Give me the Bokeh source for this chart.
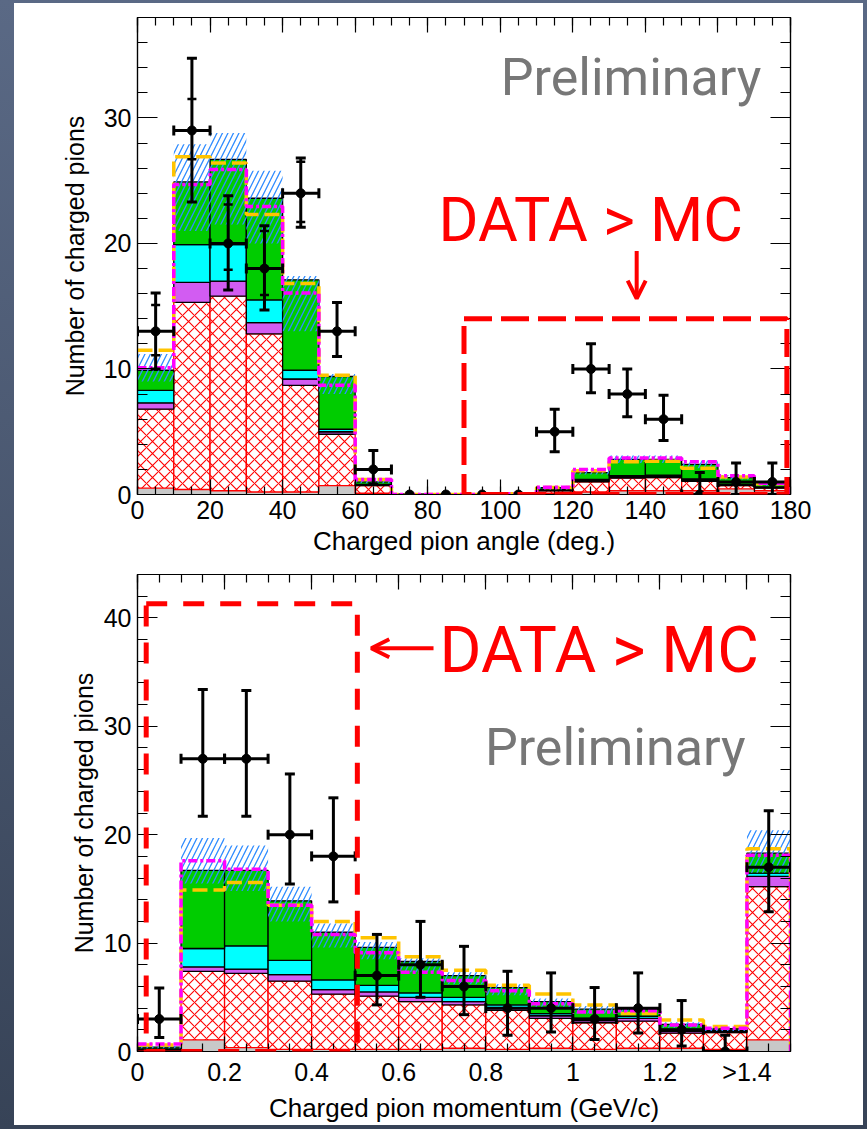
import math
from bokeh.plotting import figure
from bokeh.models import (LinearAxis, FixedTicker, Range1d, Whisker, TeeHead, Label,
                          Arrow, OpenHead, BoxAnnotation, ColumnDataSource)
from bokeh.layouts import column
from bokeh.embed import file_html
from bokeh.resources import INLINE

NaN = float("nan")

# ---------------- top panel: charged pion angle ----------------
ang_edges = [0, 10, 20, 30, 40, 50, 60, 70, 80, 90, 100, 110, 120, 130, 140, 150, 160, 170, 180]
ang_gray = [0.5, 0.4, 0.3, 0.2, 0.2, 0.7, 0.1, 0, 0, 0, 0, 0.1, 0.2, 0.3, 0.3, 0.3, 0.45, 0.3]
ang_red = [6.3, 14.9, 15.5, 12.6, 8.5, 4.1, 0.6, 0, 0, 0, 0.05, 0.2, 0.8, 1.0, 1.05, 0.75, 0.25, 0.2]
ang_violet = [0.5, 1.6, 1.2, 0.9, 0.5, 0.2, 0.05, 0, 0, 0, 0, 0.05, 0.1, 0.1, 0.1, 0.1, 0.05, 0.05]
ang_cyan = [1.0, 3.0, 2.9, 1.8, 0.7, 0.2, 0.05, 0, 0, 0, 0, 0.05, 0.1, 0.1, 0.1, 0.1, 0.05, 0.05]
ang_green = [1.6, 5.0, 6.8, 8.1, 7.2, 4.2, 0.2, 0, 0, 0, 0.05, 0.15, 0.55, 1.3, 1.25, 1.15, 0.55, 0.2]
ang_band_lo = [9.0, 21.0, 21.5, 20.0, 13.0, 8.0, 0.9, 0, 0, 0, 0, 0.4, 1.6, 2.5, 2.5, 2.1, 1.2, 0.7]
ang_band_hi = [11.2, 27.9, 28.8, 25.8, 17.4, 9.6, 1.3, 0, 0, 0, 0.1, 0.6, 2.0, 3.1, 3.1, 2.7, 1.55, 0.9]
ang_yellow = [11.5, 26.9, 26.4, 22.3, 16.8, 9.5, 1.2, 0, 0, 0, 0.05, 0.55, 1.9, 2.6, 2.65, 2.1, 1.4, 0.85]
ang_magenta = [10.1, 24.7, 25.9, 22.95, 16.05, 8.7, 1.2, 0, 0, 0, 0.05, 0.57, 2.0, 2.9, 2.9, 2.6, 1.5, 0.9]
ang_data = [13, 29, 20, 18, 24, 13, 2, 0, 0, 0, 0, 5, 10, 8, 6, 0, 1, 1]
ang_err_hi = [16.05, 34.75, 23.8, 21.4, 26.8, 15.3, 3.5, 0, 0, 0, 0, 6.8, 12.0, 10.0, 7.9, 1.75, 2.5, 2.5]
ang_err_lo = [10.0, 23.3, 16.3, 14.7, 21.3, 11.0, 0.84, 0, 0, 0, 0, 3.4, 8.1, 6.2, 4.3, 0, 0, 0]
ang_in_hi = [15.1, 31.5, 23.1, 21.0, 26.5] + [NaN] * 13
ang_in_lo = [11.1, 26.7, 17.9, 15.9, 21.7] + [NaN] * 13
ang_xticks = [0, 20, 40, 60, 80, 100, 120, 140, 160, 180]
ang_xminor = list(range(0, 181, 5))
ang_yticks = [0, 10, 20, 30]
ang_yminor = list(range(0, 39, 2))

# ---------------- bottom panel: charged pion momentum ----------------
mom_edges = [0.0, 0.1, 0.2, 0.3, 0.4, 0.5, 0.6, 0.7, 0.8, 0.9, 1.0, 1.1, 1.2, 1.3, 1.4, 1.5]
mom_gray = [0.1, 1.07, 0.35, 0.2, 0.2, 0.2, 0.2, 0.3, 0.2, 0.3, 0.2, 0.3, 0.3, 0.2, 1.07]
mom_red = [0.05, 6.33, 6.85, 6.3, 5.1, 4.9, 4.4, 4.0, 3.6, 2.75, 2.45, 2.5, 1.4, 1.55, 14.13]
mom_violet = [0.05, 0.4, 0.4, 0.6, 0.4, 0.4, 0.4, 0.3, 0.25, 0.25, 0.2, 0.25, 0.15, 0.1, 0.95]
mom_cyan = [0.05, 1.7, 2.15, 1.3, 0.9, 0.6, 0.4, 0.4, 0.25, 0.2, 0.2, 0.2, 0.2, 0.1, 0.3]
mom_green = [0.15, 7.2, 6.95, 5.5, 4.4, 3.5, 2.9, 2.0, 1.6, 1.1, 0.85, 0.65, 0.45, 0.15, 1.85]
mom_band_lo = [0.3, 15.5, 14.8, 12.0, 9.6, 8.5, 7.3, 6.2, 5.2, 4.1, 3.5, 3.5, 2.2, 1.9, 16.5]
mom_band_hi = [0.5, 19.7, 19.0, 15.2, 11.8, 10.1, 8.6, 7.3, 6.2, 4.9, 4.2, 4.1, 2.7, 2.2, 20.4]
mom_yellow = [0.6, 14.9, 15.6, 13.5, 12.0, 10.5, 8.75, 7.5, 6.1, 5.3, 4.3, 3.5, 2.9, 2.3, 18.7]
mom_magenta = [0.7, 17.6, 16.8, 13.5, 10.8, 9.1, 7.3, 6.55, 5.6, 4.4, 3.65, 3.75, 2.45, 2.15, 18.1]
mom_data = [3, 27, 27, 20, 18, 7, 8, 6, 4, 4, 3, 4, 2, 0, 17]
mom_err_hi = [5.85, 33.4, 33.3, 25.6, 23.4, 10.8, 12.0, 9.7, 7.4, 7.25, 5.9, 7.25, 4.7, 1.5, 22.2]
mom_err_lo = [1.3, 21.7, 21.7, 15.45, 13.8, 4.3, 5.0, 3.4, 1.5, 1.8, 1.1, 1.7, 0.5, 0, 12.9]
mom_in_hi = [NaN] * 15
mom_in_lo = [NaN] * 15
mom_xticks = [0, 0.2, 0.4, 0.6, 0.8, 1.0, 1.2, 1.4]
mom_xlabels = {0: "0", 0.2: "0.2", 0.4: "0.4", 0.6: "0.6", 0.8: "0.8", 1.0: "1", 1.2: "1.2", 1.4: ">1.4"}
mom_xminor = [round(0.05 * i, 2) for i in range(31)]
mom_yticks = [0, 10, 20, 30, 40]
mom_yminor = list(range(0, 45, 2))

FONT = "Liberation Sans"


def make_panel(edges, layers, band_lo, band_hi, yellow, magenta, data, ehi, elo, inhi, inlo,
               xticks, xminor, yticks, yminor, xlabel, xr, yr, borders, size,
               ylab_standoff, xoverrides=None):
    bl, br, bt, bb = borders
    p = figure(width=size[0], height=size[1], x_range=Range1d(*xr), y_range=Range1d(*yr),
               output_backend="svg", toolbar_location=None,
               min_border_left=bl, min_border_right=br, min_border_top=bt, min_border_bottom=bb,
               x_axis_type=None, y_axis_type=None)
    p.grid.visible = False
    p.outline_line_color = "black"
    p.outline_line_width = 1.2
    p.background_fill_color = "white"
    p.border_fill_color = "white"

    n = len(edges) - 1
    left = edges[:-1]
    right = edges[1:]
    cum = [0.0] * n
    for vals, fill, line, hatch in layers:
        bottom = list(cum)
        top = [c + v for c, v in zip(cum, vals)]
        cum = top
        kw = dict(left=left, right=right, bottom=bottom, top=top, fill_color=fill)
        if hatch:
            kw.update(hatch_pattern="x", hatch_color="#ff0000", hatch_scale=12, hatch_weight=1.1)
        if line:
            kw.update(line_color=line, line_width=1.3)
        else:
            kw.update(line_color=None)
        p.quad(**kw)

    # systematic error band
    p.quad(left=left, right=right, bottom=band_lo, top=band_hi, fill_alpha=0, line_color=None,
           hatch_pattern="/", hatch_color="#2f8cff", hatch_scale=11, hatch_weight=1.3)

    def step(vals):
        xs = list(edges) + [edges[-1]]
        ys = list(vals) + [vals[-1], 0]
        return xs, ys

    xs, ys = step(yellow)
    p.step(xs, ys, mode="after", line_color="#ffc400", line_width=3.5, line_dash="15 6")
    xs, ys = step(magenta)
    p.step(xs, ys, mode="after", line_color="#ff00ff", line_width=3.5, line_dash="9 3 3 3")

    # data points with errors
    cx = [(a + b) / 2 for a, b in zip(left, right)]
    hw = [(b - a) / 2 for a, b in zip(left, right)]
    keep = [i for i in range(n) if ehi[i] > elo[i]]
    src = ColumnDataSource(dict(
        x=[cx[i] for i in keep], y=[data[i] for i in keep],
        hi=[ehi[i] for i in keep], lo=[elo[i] for i in keep],
        xl=[cx[i] - hw[i] for i in keep], xr=[cx[i] + hw[i] for i in keep]))
    p.add_layout(Whisker(source=src, base="x", upper="hi", lower="lo", dimension="height",
                         line_color="black", line_width=3, level="annotation",
                         upper_head=TeeHead(size=10, line_width=3, line_color="black"),
                         lower_head=TeeHead(size=10, line_width=3, line_color="black")))
    p.add_layout(Whisker(source=src, base="y", upper="xr", lower="xl", dimension="width",
                         line_color="black", line_width=3, level="annotation",
                         upper_head=TeeHead(size=10, line_width=3, line_color="black"),
                         lower_head=TeeHead(size=10, line_width=3, line_color="black")))
    p.scatter(cx, inhi, marker="dash", size=9, line_color="black", line_width=2.5)
    p.scatter(cx, inlo, marker="dash", size=9, line_color="black", line_width=2.5)
    p.scatter(cx, data, size=9, color="black")

    # axes
    def style(ax, tick_len, minor_len, show):
        ax.axis_line_color = "black"
        ax.axis_line_width = 1.2
        ax.major_tick_line_color = "black"
        ax.minor_tick_line_color = "black"
        ax.major_tick_line_width = 1.2
        ax.minor_tick_line_width = 1.2
        ax.major_tick_in = tick_len
        ax.major_tick_out = 0
        ax.minor_tick_in = minor_len
        ax.minor_tick_out = 0
        ax.major_label_text_font = FONT
        ax.axis_label_text_font_style = "normal"
        ax.axis_label_text_color = "black"
        if show:
            ax.major_label_text_color = "black"
            ax.major_label_text_font_size = "25px"
            ax.major_label_standoff = 6
            ax.axis_label_text_font_size = "26px"
        else:
            ax.major_label_text_color = None
            ax.major_label_text_font_size = "1px"
            ax.major_label_standoff = 0

    xt = FixedTicker(ticks=xticks, minor_ticks=xminor)
    yt = FixedTicker(ticks=yticks, minor_ticks=yminor)
    xb = LinearAxis(ticker=xt, axis_label=xlabel)
    if xoverrides:
        xb.major_label_overrides = xoverrides
    style(xb, 15, 8, True)
    xb.axis_label_text_font = FONT
    xb.axis_label_standoff = 4
    p.add_layout(xb, "below")
    xa = LinearAxis(ticker=FixedTicker(ticks=xticks, minor_ticks=xminor))
    style(xa, 15, 8, False)
    p.add_layout(xa, "above")
    yl = LinearAxis(ticker=yt, axis_label="Number of charged pions")
    style(yl, 20, 10, True)
    yl.axis_label_text_font = FONT
    yl.axis_label_text_font_size = "25px"
    yl.axis_label_standoff = ylab_standoff
    p.add_layout(yl, "left")
    yr_ax = LinearAxis(ticker=FixedTicker(ticks=yticks, minor_ticks=yminor))
    style(yr_ax, 20, 10, False)
    p.add_layout(yr_ax, "right")
    return p


layers_top = [(ang_gray, "#c8c8c8", None, False), (ang_red, "white", "#ff0000", True),
              (ang_violet, "#d25cf2", "black", False), (ang_cyan, "#00ffff", "black", False),
              (ang_green, "#00cc00", "black", False)]
p1 = make_panel(ang_edges, layers_top, ang_band_lo, ang_band_hi, ang_yellow, ang_magenta,
                ang_data, ang_err_hi, ang_err_lo, ang_in_hi, ang_in_lo,
                ang_xticks, ang_xminor, ang_yticks, ang_yminor, "Charged pion angle (deg.)",
                (0, 180), (0, 38), (123, 69, 14, 59), (849, 555), 12)

layers_bot = [(mom_gray, "#c8c8c8", None, False), (mom_red, "white", "#ff0000", True),
              (mom_violet, "#d25cf2", "black", False), (mom_cyan, "#00ffff", "black", False),
              (mom_green, "#00cc00", "black", False)]
p2 = make_panel(mom_edges, layers_bot, mom_band_lo, mom_band_hi, mom_yellow, mom_magenta,
                mom_data, mom_err_hi, mom_err_lo, mom_in_hi, mom_in_lo,
                mom_xticks, mom_xminor, mom_yticks, mom_yminor, "Charged pion momentum (GeV/c)",
                (0, 1.5), (0, 44), (119, 73, 16, 70), (849, 567), 3,
                xoverrides=mom_xlabels)

# annotations: top
p1.add_layout(BoxAnnotation(left=90, right=179, bottom=0, top=14, fill_alpha=0,
                            line_color="#ff0000", line_alpha=1.0, line_width=5, line_dash="28 9"))
p1.add_layout(Label(x=172, y=33.2, text="Preliminary", text_font="Roboto", text_font_size="52px",
                    text_color="#777777", text_align="right", text_baseline="alphabetic"))
p1.add_layout(Label(x=83, y=21.9, text="DATA > MC", text_font="Roboto", text_font_size="61px",
                    text_color="#ff0000", text_align="left", text_baseline="alphabetic"))
p1.add_layout(Arrow(x_start=137.6, y_start=19.4, x_end=137.6, y_end=15.6, line_color="#ff0000",
                    line_width=4, end=OpenHead(size=18, line_width=4, line_color="#ff0000")))

# annotations: bottom
p2.add_layout(BoxAnnotation(left=0.02, right=0.505, bottom=0, top=41.3, fill_alpha=0,
                            line_color="#ff0000", line_alpha=1.0, line_width=5, line_dash="21 16"))
p2.add_layout(Label(x=1.397, y=28.05, text="Preliminary", text_font="Roboto", text_font_size="52px",
                    text_color="#777777", text_align="right", text_baseline="alphabetic"))
p2.add_layout(Label(x=0.694, y=36.95, text="DATA > MC", text_font="Roboto", text_font_size="64px",
                    text_color="#ff0000", text_align="left", text_baseline="alphabetic"))
p2.add_layout(Arrow(x_start=0.68, y_start=37.2, x_end=0.537, y_end=37.2, line_color="#ff0000",
                    line_width=4, end=OpenHead(size=18, line_width=4, line_color="#ff0000")))

inner = column(p1, p2, spacing=0, width=849, height=1122, margin=(3, 4, 4, 14),
               styles={"background": "white"})
layout = column(inner, width=867, height=1129,
                styles={"background": "linear-gradient(#5a6985, #374357)"})

open("out.html", "w").write(file_html(layout, INLINE))
